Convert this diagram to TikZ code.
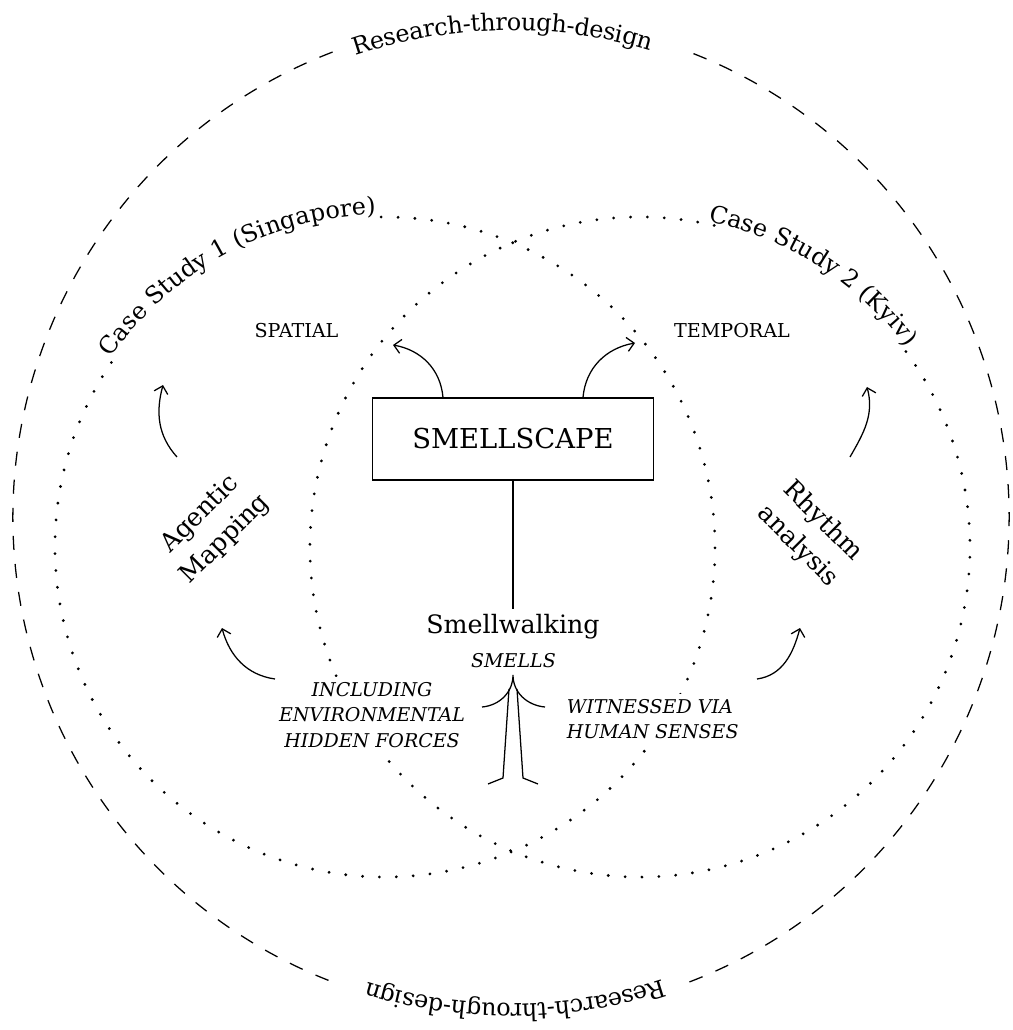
\documentclass[tikz,border=0pt]{standalone}
\usepackage{fontspec}
\setmainfont{DejaVu Serif}
\usetikzlibrary{arrows.meta,decorations.text}

\newcommand\ringfont{\fontsize{17}{20}\selectfont}

\begin{document}
\begin{tikzpicture}[x=0.025cm,y=0.025cm,
  dashring/.style={line width=0.9pt,dash pattern=on 10pt off 10pt},
  dotring/.style={line width=2.2pt,line cap=round,dash pattern=on 0pt off 12pt},
  flow/.style={line width=0.9pt,-{Straight Barb[length=5pt,width=10pt]}},
  caps/.style={font=\fontsize{13.6}{18}\selectfont},
  note/.style={font=\fontsize{13.5}{18}\selectfont\itshape,fill=white,inner sep=4pt},
  method/.style={font=\fontsize{18}{25}\selectfont,align=center},
  ringtext/.style={decorate,decoration={text along path,text align=center,raise=#1}}
]
\useasboundingbox (-511,-515) rectangle (501,515);

\draw[dashring,shift={(0,-2)}] (111:498) arc[start angle=111,end angle=250,radius=498];
\draw[dashring,shift={(0,-2)}] (291:498) arc[start angle=291,end angle=430,radius=498];
\path[ringtext=-8pt,decoration={text={|\ringfont|Research-through-design}},shift={(0,-2)}] (114:498) arc[start angle=114,end angle=68,radius=498];
\path[ringtext=-8pt,decoration={text={|\ringfont|Research-through-design}},shift={(0,-2)}] (293:498) arc[start angle=293,end angle=248,radius=498];

\draw[dotring,shift={(-126,-32)}] (146:330) arc[start angle=146,end angle=452,radius=330];
\path[ringtext=2pt,decoration={text={|\ringfont|Case Study 1 (Singapore)}},shift={(-126,-32)}] (150:330) arc[start angle=150,end angle=87,radius=330];
\draw[dotring,shift={(129,-32)}] (77:330) arc[start angle=77,end angle=398,radius=330];
\path[ringtext=2pt,decoration={text={|\ringfont|Case Study 2 (Kyiv)}},shift={(129,-32)}] (82:330) arc[start angle=82,end angle=33,radius=330];

\node[draw,line width=0.9pt,minimum width=7.02cm,minimum height=2.05cm,font=\fontsize{19.5}{22}\selectfont] (scape) at (2,76) {SMELLSCAPE};
\node[caps,anchor=base] (spatial) at (-214.5,177) {SPATIAL};
\node[caps,anchor=base] (temporal) at (221,177) {TEMPORAL};
\node[font=\fontsize{18}{22}\selectfont,anchor=base] (walk) at (2,-118) {Smellwalking};
\node[note,anchor=base] (smells) at (2.5,-152) {SMELLS};
\node[note,align=center] (forces) at (-139,-200) {INCLUDING\\ENVIRONMENTAL\\HIDDEN FORCES};
\node[note,align=left,anchor=west] (senses) at (50,-204) {WITNESSED VIA\\HUMAN SENSES};
\node[method,rotate=45] (agentic) at (-298,-12) {Agentic\\Mapping};
\node[method,rotate=-45] (rhythm) at (299,-19) {Rhythm\\analysis};

\draw[line width=0.9pt] (scape.south) -- (walk.north);

\coordinate (sp-tip) at (-118,170);
\coordinate (tp-tip) at (124,172);
\draw[flow] ([xshift=-1.75cm]scape.north) to[out=95,in=-10] (sp-tip);
\draw[flow] ([xshift=1.75cm]scape.north) to[out=85,in=190] (tp-tip);

\coordinate (ag-from) at (-334,58);
\coordinate (ag-tip) at (-348,130);
\draw[flow] (ag-from) to[out=132,in=-105] (ag-tip);
\coordinate (rh-from) at (339,58);
\coordinate (rh-tip) at (356,128);
\draw[flow] (rh-from) to[out=60,in=-75] (rh-tip);

\coordinate (fo-from) at (-236,-164);
\coordinate (fo-tip) at (-289,-113);
\draw[flow] (fo-from) to[out=172,in=-75] (fo-tip);
\coordinate (se-from) at (246,-164);
\coordinate (se-tip) at (289,-113);
\draw[flow] (se-from) to[out=8,in=-105] (se-tip);

\coordinate (up-tip) at (2,-160);
\draw[line width=0.9pt] (-29,-192) to[out=5,in=-90] (up-tip) to[out=-90,in=175] (34,-192);
\draw[line width=0.9pt] (-2,-174) -- (-8,-263) -- (-23,-269);
\draw[line width=0.9pt] (6,-174) -- (12,-263) -- (27,-269);
\end{tikzpicture}
\end{document}
